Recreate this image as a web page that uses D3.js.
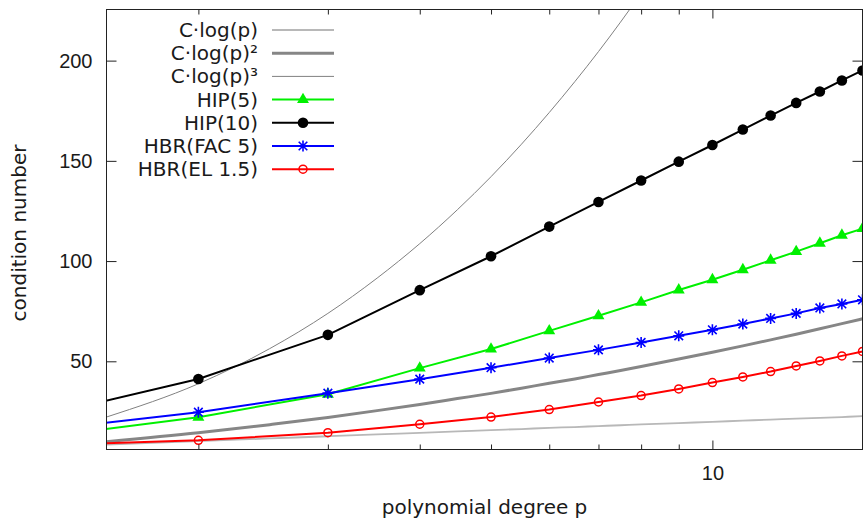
<!DOCTYPE html>
<html>
<head>
<meta charset="utf-8">
<script src="https://cdn.jsdelivr.net/npm/d3@7"></script>
<style>
  body { margin: 0; background: #fff; }
  svg { display: block; font-family: "DejaVu Sans", sans-serif; }
  .tick text { font-size: 20px; fill: #1a1a1a; }
  .axis-label { font-size: 20px; fill: #1a1a1a; }
  .legend text { font-size: 20px; fill: #1a1a1a; }
</style>
</head>
<body>
<svg class="condition-chart"></svg>
<script>
// measured polynomial degrees
var degrees = [1, 2, 3, 4, 5, 6, 7, 8, 9, 10, 11, 12, 13, 14, 15, 16];
var hip5 = [8.0, 22.1, 33.6, 46.6, 56.1, 65.2, 72.7, 79.4, 85.6, 90.7, 95.7, 100.4, 104.7, 108.9, 112.9, 116.2];
var hip10 = [15.2, 41.2, 63.2, 85.5, 102.4, 117.2, 129.5, 140.2, 149.6, 157.9, 165.6, 172.6, 178.9, 184.6, 190.1, 195.1];
var hbrFac5 = [12.1, 24.6, 34.1, 41.1, 46.8, 51.6, 55.7, 59.4, 62.7, 65.7, 68.6, 71.4, 73.9, 76.6, 78.6, 80.7];
var hbrEl15 = [7.0, 10.6, 14.4, 18.6, 22.2, 25.9, 29.7, 32.9, 36.2, 39.4, 42.2, 44.9, 47.7, 50.2, 52.7, 54.9];

// reference curves
var refDegrees = [1.5, 2, 2.5, 3, 3.5, 4, 4.5, 5, 5.5, 6, 6.5, 7, 7.5, 8, 9, 10, 11, 12, 13, 14, 15, 16];
var refLog = [8.4, 10.2, 11.5, 12.6, 13.5, 14.3, 15.0, 15.7, 16.2, 16.8, 17.2, 17.7, 18.1, 18.5, 19.2, 19.8, 20.4, 20.9, 21.4, 21.8, 22.2, 22.6];
var refLog2 = [9.9, 14.3, 18.4, 22.0, 25.4, 28.5, 31.4, 34.0, 36.6, 39.0, 41.2, 43.4, 45.4, 47.4, 51.1, 54.5, 57.7, 60.7, 63.5, 66.2, 68.8, 71.2];
var refLog3 = [22.2, 38.8, 56.3, 73.9, 91.5, 108.7, 125.6, 142.1, 158.3, 174.1, 189.5, 204.5, 219.2, 233.6, 261.5, 288.2, 313.8, 338.6, 362.4, 385.6, 407.9, 429.5];

var xTicks = [10];
var xMinorTicks = [2, 3, 4, 5, 6, 7, 8, 9];
var yTicks = [50, 100, 150, 200];

var legendNames = ["C\u00b7log(p)", "C\u00b7log(p)\u00b2", "C\u00b7log(p)\u00b3", "HIP(5)", "HIP(10)", "HBR(FAC 5)", "HBR(EL 1.5)"];

drawChart();

function drawChart() {
  var width = 863;
  var height = 520;
  var left = 106.5, right = 862.5, top = 9.5, bottom = 449.5;

  var x = d3.scaleLog().domain([1.5, 16]).range([left, right]);
  var y = d3.scaleLinear().domain([6, 225.5]).range([bottom, top]);

  var svg = d3.select(".condition-chart")
    .attr("width", width)
    .attr("height", height);

  svg.append("clipPath")
    .attr("id", "plot-clip")
    .append("rect")
    .attr("x", left)
    .attr("y", top)
    .attr("width", right - left)
    .attr("height", bottom - top);

  var styles = [
    {color: "#b8b8b8", width: 1.8},
    {color: "#868686", width: 3},
    {color: "#808080", width: 1},
    {color: "#00f000", width: 2, marker: "triangle"},
    {color: "#000000", width: 2, marker: "dot"},
    {color: "#0000ff", width: 2, marker: "star"},
    {color: "#ff0000", width: 2, marker: "ring"}
  ];

  var refSeries = [refLog, refLog2, refLog3].map(function(vals) {
    return vals.map(function(v, i) { return {p: refDegrees[i], v: v}; });
  });
  var dataSeries = [hip5, hip10, hbrFac5, hbrEl15].map(function(vals) {
    return vals.map(function(v, i) { return {p: degrees[i], v: v}; });
  });

  var smoothLine = d3.line()
    .curve(d3.curveMonotoneX)
    .x(function(d) { return x(d.p); })
    .y(function(d) { return y(d.v); });

  var straightLine = d3.line()
    .x(function(d) { return x(d.p); })
    .y(function(d) { return y(d.v); });

  var plot = svg.append("g").attr("clip-path", "url(#plot-clip)");

  refSeries.forEach(function(s, i) {
    plot.append("path")
      .datum(s)
      .attr("fill", "none")
      .attr("stroke", styles[i].color)
      .attr("stroke-width", styles[i].width)
      .attr("d", smoothLine);
  });

  dataSeries.forEach(function(s, j) {
    var st = styles[j + 3];
    plot.append("path")
      .datum(s)
      .attr("fill", "none")
      .attr("stroke", st.color)
      .attr("stroke-width", st.width)
      .attr("stroke-linejoin", "round")
      .attr("d", straightLine);

    plot.selectAll(null)
      .data(s.filter(function(d) { return d.p >= 1.5; }))
      .enter()
      .append("g")
      .attr("transform", function(d) { return "translate(" + x(d.p) + "," + y(d.v) + ")"; })
      .each(function() { drawMarker(d3.select(this), st); });
  });

  // frame
  svg.append("rect")
    .attr("x", left)
    .attr("y", top)
    .attr("width", right - left)
    .attr("height", bottom - top)
    .attr("fill", "none")
    .attr("stroke", "#222")
    .attr("stroke-width", 1);

  // x axis, ticks pointing inwards
  svg.append("g")
    .attr("transform", "translate(0," + bottom + ")")
    .call(d3.axisBottom(x).tickValues(xTicks).tickFormat(d3.format("d")).tickSizeInner(-9).tickSizeOuter(0).tickPadding(16))
    .call(styleAxis);
  svg.append("g")
    .attr("transform", "translate(0," + bottom + ")")
    .call(d3.axisBottom(x).tickValues(xMinorTicks).tickFormat("").tickSizeInner(-5).tickSizeOuter(0))
    .call(styleAxis);
  svg.append("g")
    .attr("transform", "translate(0," + top + ")")
    .call(d3.axisTop(x).tickValues(xTicks).tickFormat("").tickSizeInner(-9).tickSizeOuter(0))
    .call(styleAxis);
  svg.append("g")
    .attr("transform", "translate(0," + top + ")")
    .call(d3.axisTop(x).tickValues(xMinorTicks).tickFormat("").tickSizeInner(-5).tickSizeOuter(0))
    .call(styleAxis);

  // y axis
  svg.append("g")
    .attr("transform", "translate(" + left + ",0)")
    .call(d3.axisLeft(y).tickValues(yTicks).tickSizeInner(-10).tickSizeOuter(0).tickPadding(14))
    .call(styleAxis);
  svg.append("g")
    .attr("transform", "translate(" + right + ",0)")
    .call(d3.axisRight(y).tickValues(yTicks).tickFormat("").tickSizeInner(-10).tickSizeOuter(0))
    .call(styleAxis);

  svg.append("text")
    .attr("class", "axis-label")
    .attr("transform", "translate(26,233) rotate(-90)")
    .style("text-anchor", "middle")
    .text("condition number");

  svg.append("text")
    .attr("class", "axis-label")
    .attr("x", (left + right) / 2)
    .attr("y", 514)
    .style("text-anchor", "middle")
    .text("polynomial degree p");

  // legend
  var legend = svg.append("g").attr("class", "legend");
  legendNames.forEach(function(name, i) {
    var ly = 30 + i * 23.2;
    legend.append("text")
      .attr("x", 258)
      .attr("y", ly)
      .attr("dy", "0.35em")
      .style("text-anchor", "end")
      .text(name);
    legend.append("line")
      .attr("x1", 272)
      .attr("x2", 334)
      .attr("y1", ly)
      .attr("y2", ly)
      .attr("stroke", styles[i].color)
      .attr("stroke-width", styles[i].width);
    if (styles[i].marker) {
      var g = legend.append("g").attr("transform", "translate(303," + ly + ")");
      drawMarker(g, styles[i]);
    }
  });
}

function drawMarker(g, st) {
  if (st.marker == "dot") {
    g.append("circle").attr("r", 5.3).attr("fill", st.color);
  } else if (st.marker == "triangle") {
    g.append("path")
      .attr("d", d3.symbol(d3.symbolTriangle).size(62)())
      .attr("fill", st.color);
  } else if (st.marker == "star") {
    g.append("path")
      .attr("d", "M0,-5.5V5.5M-5.5,0H5.5M-4.3,-4.3L4.3,4.3M-4.3,4.3L4.3,-4.3")
      .attr("stroke", st.color)
      .attr("stroke-width", 1.6)
      .attr("fill", "none");
  } else if (st.marker == "ring") {
    g.append("circle")
      .attr("r", 4)
      .attr("fill", "none")
      .attr("stroke", st.color)
      .attr("stroke-width", 1.5);
  }
}

function styleAxis(g) {
  g.select(".domain").remove();
  g.selectAll(".tick line").attr("stroke", "#222");
}
</script>
</body>
</html>
